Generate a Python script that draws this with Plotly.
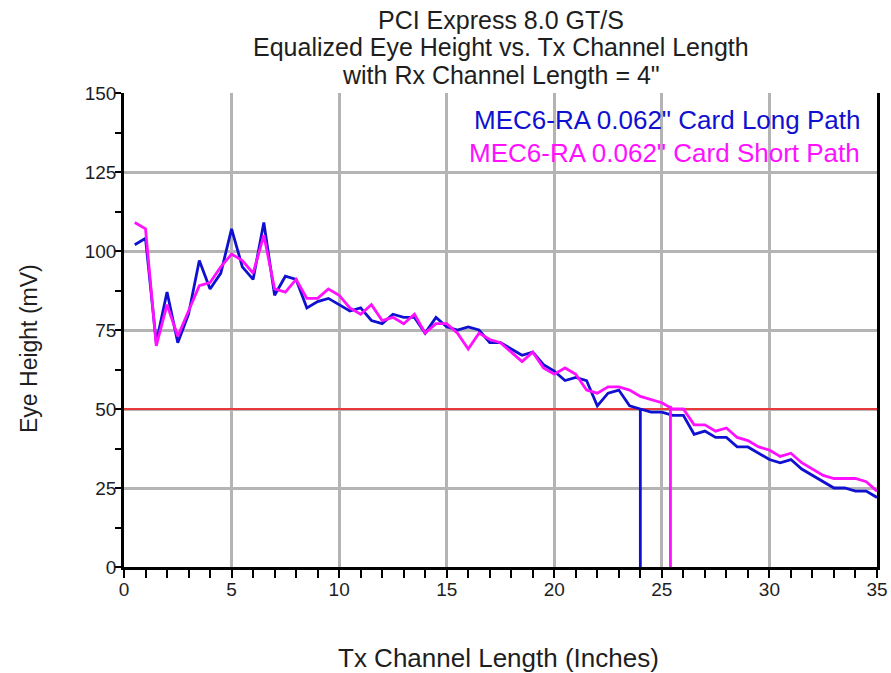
import plotly.graph_objects as go

tx_length = [0.5, 1.0, 1.5, 2.0, 2.5, 3.0, 3.5, 4.0, 4.5, 5.0, 5.5, 6.0, 6.5, 7.0, 7.5, 8.0, 8.5, 9.0, 9.5, 10.0,
             10.5, 11.0, 11.5, 12.0, 12.5, 13.0, 13.5, 14.0, 14.5, 15.0, 15.5, 16.0, 16.5, 17.0, 17.5, 18.0, 18.5, 19.0, 19.5, 20.0,
             20.5, 21.0, 21.5, 22.0, 22.5, 23.0, 23.5, 24.0, 24.5, 25.0, 25.5, 26.0, 26.5, 27.0, 27.5, 28.0, 28.5, 29.0, 29.5, 30.0,
             30.5, 31.0, 31.5, 32.0, 32.5, 33.0, 33.5, 34.0, 34.5, 35.0]

long_path = [102, 104, 71, 87, 71, 80, 97, 88, 93, 107, 95, 91, 109, 86, 92, 91, 82, 84, 85, 83,
             81, 82, 78, 77, 80, 79, 79, 74, 79, 76, 75, 76, 75, 71, 71, 69, 67, 68, 64, 62,
             59, 60, 59, 51, 55, 56, 51, 50, 49, 49, 48, 48, 42, 43, 41, 41, 38, 38, 36, 34,
             33, 34, 31, 29, 27, 25, 25, 24, 24, 22]

short_path = [109, 107, 70, 83, 73, 81, 89, 90, 95, 99, 97, 93, 105, 88, 87, 91, 85, 85, 88, 86,
              82, 80, 83, 78, 79, 77, 80, 74, 77, 77, 74, 69, 74, 72, 71, 68, 65, 68, 63, 61,
              63, 61, 56, 55, 57, 57, 56, 54, 53, 52, 50, 50, 45, 45, 43, 44, 41, 40, 38, 37,
              35, 36, 33, 31, 29, 28, 28, 28, 27, 24]

series_names = ["MEC6-RA 0.062\" Card Long Path", "MEC6-RA 0.062\" Card Short Path"]
series_colors = ["#1010d0", "#ff10ff"]

limit_x = [0, 35]
limit_y = [50, 50]

cross_long_x = [24.0, 24.0]
cross_long_y = [50, 0]
cross_short_x = [25.4, 25.4]
cross_short_y = [51, 0]

title_lines = ["PCI Express 8.0 GT/S", "Equalized Eye Height vs. Tx Channel Length", "with Rx Channel Length = 4\""]
x_title = "Tx Channel Length (Inches)"
y_title = "Eye Height (mV)"

fig = go.Figure()
fig.add_trace(go.Scatter(x=limit_x, y=limit_y, mode="lines", line=dict(color="#e83a3a", width=2), showlegend=False, hoverinfo="skip"))
fig.add_trace(go.Scatter(x=tx_length, y=long_path, mode="lines", name=series_names[0], line=dict(color=series_colors[0], width=2.8), showlegend=False))
fig.add_trace(go.Scatter(x=cross_long_x, y=cross_long_y, mode="lines", line=dict(color=series_colors[0], width=2.8), showlegend=False, hoverinfo="skip"))
fig.add_trace(go.Scatter(x=tx_length, y=short_path, mode="lines", name=series_names[1], line=dict(color=series_colors[1], width=2.8), showlegend=False))
fig.add_trace(go.Scatter(x=cross_short_x, y=cross_short_y, mode="lines", line=dict(color=series_colors[1], width=2.8), showlegend=False, hoverinfo="skip"))

font = "Liberation Sans, Arial, sans-serif"
txt = "#1e1e1e"
PH = 474.0   # plot height in px
PW = 753.0   # plot width in px

def py(p):   # pixel row -> paper y
    return (567 - p) / PH

def px(p):   # pixel column -> paper x
    return (p - 124) / PW

annotations = []
for i, (t, row) in enumerate(zip(title_lines, [20.5, 47, 74.5])):
    annotations.append(dict(text=t, xref="paper", yref="paper", x=0.5, y=py(row),
                            xanchor="center", yanchor="middle", showarrow=False,
                            font=dict(family=font, size=25, color=txt)))
for n, c, row in zip(series_names, series_colors, [120, 153]):
    annotations.append(dict(text=n, xref="paper", yref="paper", x=px(862), y=py(row),
                            xanchor="right", yanchor="middle", showarrow=False,
                            font=dict(family=font, size=26, color=c)))
annotations.append(dict(text=x_title, xref="paper", yref="paper", x=px(498), y=py(658),
                        xanchor="center", yanchor="middle", showarrow=False,
                        font=dict(family=font, size=26, color=txt)))
annotations.append(dict(text=y_title, xref="paper", yref="paper", x=px(29), y=py(349), textangle=-90,
                        xanchor="center", yanchor="middle", showarrow=False,
                        font=dict(family=font, size=23, color=txt)))

fig.update_layout(
    width=891, height=673,
    margin=dict(l=124, r=14, t=93, b=106, autoexpand=False),
    paper_bgcolor="white", plot_bgcolor="white",
    font=dict(family=font, color=txt),
    annotations=annotations,
    xaxis=dict(range=[0, 35], dtick=5, tick0=0, showgrid=True, gridcolor="#b4b4b4", gridwidth=2.5,
               showline=True, linecolor="black", linewidth=2.5, zeroline=False, automargin=False,
               ticks="outside", ticklen=8, tickwidth=2, tickcolor="black", ticklabelstandoff=-5,
               minor=dict(dtick=1, ticks="outside", ticklen=8, tickwidth=2, tickcolor="black", showgrid=False),
               tickfont=dict(size=19, color=txt)),
    yaxis=dict(range=[0, 150], dtick=25, tick0=0, showgrid=True, gridcolor="#b4b4b4", gridwidth=2.5,
               showline=True, linecolor="black", linewidth=2.5, mirror=True, zeroline=False, automargin=False,
               ticks="outside", ticklen=6, tickwidth=2, tickcolor="black", ticklabelstandoff=-5,
               minor=dict(dtick=12.5, ticks="outside", ticklen=6, tickwidth=2, tickcolor="black", showgrid=False),
               tickfont=dict(size=19, color=txt)),
)

# remove the browser's default page margin so the figure fills the window exactly
fig.write_html("out.html", config={"displayModeBar": False},
               post_script="document.body.style.margin='0';document.body.style.overflow='hidden';")
